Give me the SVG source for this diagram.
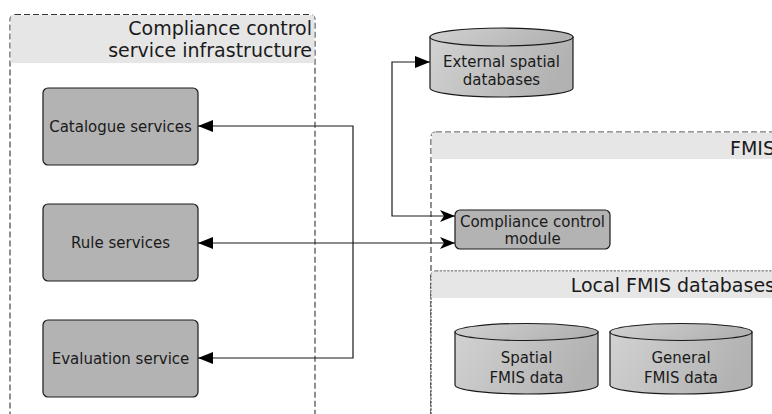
<svg xmlns="http://www.w3.org/2000/svg" width="772" height="414" viewBox="0 0 772 414">
  <style>
    .container { fill: #ffffff; stroke: #333333; stroke-width: 1.1; stroke-dasharray: 6 3; }
    .container-fine { fill: #ffffff; stroke: #333333; stroke-width: 1.1; stroke-dasharray: 2.5 1.2; }
    .band { fill: #e6e6e6; }
    .title { font-family: "DejaVu Sans", "Liberation Sans", sans-serif; font-size: 19px; fill: #1a1a1a; text-anchor: end; }
    .box { fill: #b3b3b3; stroke: #1a1a1a; stroke-width: 1.2; }
    .db { fill: url(#dbShade); stroke: #1a1a1a; stroke-width: 1.2; }
    .label { font-family: "DejaVu Sans", "Liberation Sans", sans-serif; font-size: 15px; fill: #1a1a1a; text-anchor: middle; }
    .wire { fill: none; stroke: #1a1a1a; stroke-width: 1.2; }
  </style>
  <defs>
    <linearGradient id="dbShade" x1="0" y1="0" x2="1" y2="0.25">
      <stop offset="0" stop-color="#d2d2d2"/>
      <stop offset="1" stop-color="#b2b2b2"/>
    </linearGradient>
    <marker id="tri" markerUnits="userSpaceOnUse" markerWidth="16" markerHeight="13" refX="15" refY="6" orient="auto-start-reverse">
      <path d="M0,0 L15,6 L0,12 Z" fill="#000000"/>
    </marker>
    <marker id="barb" markerUnits="userSpaceOnUse" markerWidth="16" markerHeight="13" refX="15" refY="6" orient="auto-start-reverse">
      <path d="M0,0 L15,6 L0,12 L4,6 Z" fill="#000000"/>
    </marker>
  </defs>

  <rect width="772" height="414" fill="#ffffff"/>

  <!-- Compliance control service infrastructure -->
  <g id="infrastructure">
    <rect class="container" x="10" y="14.5" width="305" height="420" rx="5"/>
    <rect class="band" x="10.6" y="15.1" width="303.8" height="48"/>
    <text class="title" x="312" y="35">Compliance control</text>
    <text class="title" x="312" y="57">service infrastructure</text>
  </g>

  <!-- FMIS -->
  <g id="fmis">
    <rect class="container" x="431" y="132" width="347" height="300" rx="5"/>
    <rect class="band" x="431.6" y="132.6" width="345" height="26.5"/>
    <text class="title" x="775" y="155">FMIS</text>
  </g>

  <!-- Local FMIS databases -->
  <g id="local-databases">
    <rect class="container-fine" x="431" y="271" width="347" height="160" rx="5"/>
    <rect class="band" x="431.6" y="271.6" width="345" height="26.5"/>
    <text class="title" x="775" y="292">Local FMIS databases</text>
  </g>

  <g id="catalogue-services">
    <rect class="box" x="43" y="88" width="155" height="77" rx="5"/>
    <text class="label" x="120.5" y="132">Catalogue services</text>
  </g>

  <g id="rule-services">
    <rect class="box" x="43" y="204" width="155" height="77" rx="5"/>
    <text class="label" x="120.5" y="248">Rule services</text>
  </g>

  <g id="evaluation-service">
    <rect class="box" x="43" y="320" width="155" height="77" rx="5"/>
    <text class="label" x="120.5" y="364">Evaluation service</text>
  </g>

  <g id="compliance-module">
    <rect class="box" x="455" y="210" width="155" height="39" rx="5"/>
    <text class="label" x="532.5" y="227">Compliance control</text>
    <text class="label" x="532.5" y="244">module</text>
  </g>

  <g id="external-spatial-databases">
    <path class="db" d="M430,37 V88 A71.5,9 0 0 0 573,88 V37 Z"/>
    <ellipse class="db" cx="501.5" cy="37" rx="71.5" ry="9"/>
    <text class="label" x="501.5" y="67">External spatial</text>
    <text class="label" x="501.5" y="85">databases</text>
  </g>

  <g id="spatial-fmis-data">
    <path class="db" d="M455,332 V385 A71.5,9 0 0 0 598,385 V332 Z"/>
    <ellipse class="db" cx="526.5" cy="332" rx="71.5" ry="8.5"/>
    <text class="label" x="526.5" y="363">Spatial</text>
    <text class="label" x="526.5" y="383">FMIS data</text>
  </g>

  <g id="general-fmis-data">
    <path class="db" d="M610,332 V385 A71,9 0 0 0 752,385 V332 Z"/>
    <ellipse class="db" cx="681" cy="332" rx="71" ry="8.5"/>
    <text class="label" x="681" y="363">General</text>
    <text class="label" x="681" y="383">FMIS data</text>
  </g>

  <!-- connectors -->
  <g id="connectors">
    <path class="wire" d="M198,126 H353 V358 H198" marker-start="url(#tri)" marker-end="url(#tri)"/>
    <path class="wire" d="M198,243 H455" marker-start="url(#tri)" marker-end="url(#barb)"/>
    <path class="wire" d="M430,62 H392 V216 H455" marker-start="url(#tri)" marker-end="url(#barb)"/>
  </g>
</svg>
